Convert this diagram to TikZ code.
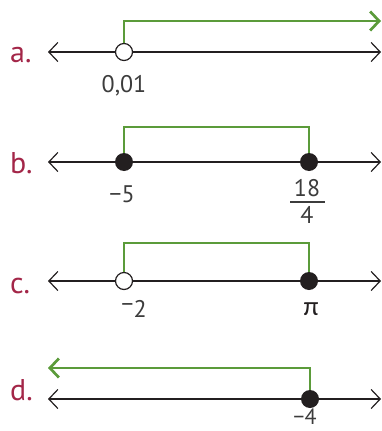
\documentclass[tikz,border=0pt]{standalone}
\usepackage{fontspec}
\setmainfont{PT Sans}
\newfontfamily\greekfont{Carlito}
\usetikzlibrary{arrows.meta}
\definecolor{wine}{RGB}{163,38,72}
\definecolor{leaf}{RGB}{91,155,58}
\definecolor{ink}{RGB}{35,31,32}
\definecolor{numgray}{RGB}{60,60,60}

\begin{document}
\begin{tikzpicture}[x=1pt,y=-1pt,>={Straight Barb[length=9pt,width=19pt]},
  axis/.style={ink,line width=1.2pt,<->},
  interval/.style={leaf,line width=2.7pt},
  opendot/.style={circle,draw=ink,fill=white,line width=1.2pt,minimum size=17pt,inner sep=0pt},
  fulldot/.style={circle,fill=ink,minimum size=18pt,inner sep=0pt},
  item/.style={wine,font=\fontsize{30}{30}\selectfont,anchor=base west,inner sep=0pt},
  num/.style={numgray,font=\fontsize{24}{24}\selectfont,anchor=base,inner sep=0pt}]
\useasboundingbox (0,0) rectangle (382,431);

% a.
\node[item] (la) at (10,62) {a.};
\coordinate (a0) at (48,52); \coordinate (a1) at (381,52);
\draw[axis] (a0) -- (a1);
\coordinate (ea) at (124,52); \coordinate (ga) at (381,21);
\draw[interval,->] (ea) |- (ga);
\node[opendot] (pa) at (ea) {};
\node[num] (va) at (124,92) {0,01};

% b.
\node[item] (lb) at (10,173) {b.};
\coordinate (b0) at (48,162); \coordinate (b1) at (381,162);
\draw[axis] (b0) -- (b1);
\coordinate (eb1) at (124,162); \coordinate (eb2) at (309,162);
\coordinate (tb) at (216,127);
\draw[interval] (eb1) |- (tb) -| (eb2);
\node[fulldot] (pb1) at (eb1) {};
\node[fulldot] (pb2) at (eb2) {};
\node[num] (vb1) at (122,202) {−5};
\node[num] (nb) at (307,196) {18};
\draw[numgray,line width=1.2pt] (290,202) -- (325,202);
\node[num] (db) at (307,223) {4};

% c.
\node[item] (lc) at (10,293) {c.};
\coordinate (c0) at (48,281); \coordinate (c1) at (381,281);
\draw[axis] (c0) -- (c1);
\coordinate (ec1) at (124,281); \coordinate (ec2) at (309,281);
\coordinate (tc) at (216,243);
\draw[interval] (ec1) |- (tc) -| (ec2);
\node[opendot] (pc1) at (ec1) {};
\node[fulldot] (pc2) at (ec2) {};
\node[num] (vc1) at (134,317) {\raisebox{0.35ex}{−}2};
\node[num,ink,font=\greekfont\fontsize{27}{27}\selectfont] (vc2) at (311,315) {π};

% d.
\node[item] (ld) at (10,400) {d.};
\coordinate (d0) at (48,399); \coordinate (d1) at (381,399);
\draw[axis] (d0) -- (d1);
\coordinate (ed) at (310,399); \coordinate (gd) at (48,368);
\draw[interval,->] (ed) |- (gd);
\node[fulldot] (pd) at (ed) {};
\node[num,font=\fontsize{22}{22}\selectfont] (vd) at (305,424) {−4};
\end{tikzpicture}
\end{document}
